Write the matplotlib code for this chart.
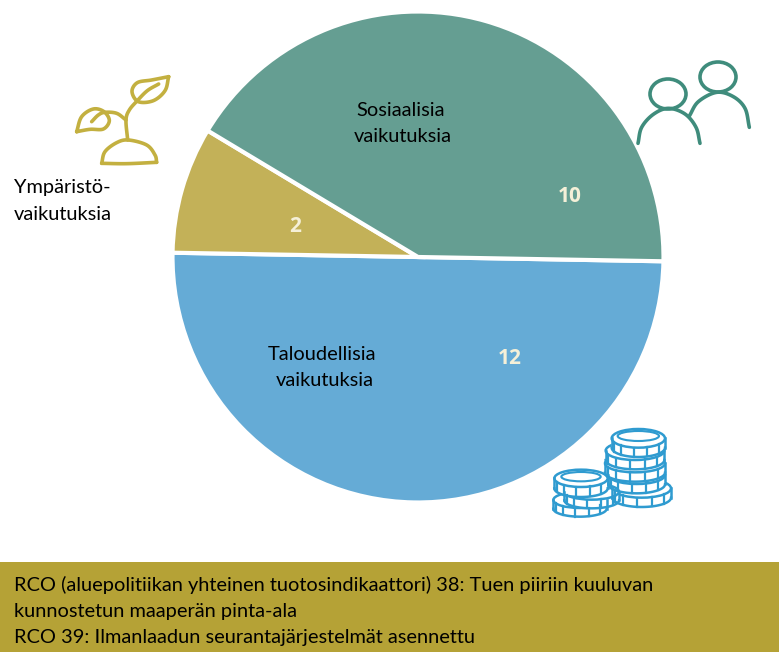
import matplotlib
matplotlib.use("Agg")
import matplotlib.pyplot as plt
import numpy as np
from matplotlib.patches import Ellipse, Rectangle

# Pie data
labels = ["Taloudellisia", "Ympäristö", "Sosiaalisia"]
values = [12, 2, 10]
colors = ["#65abd6", "#c3b158", "#659e92"]

# Text under the pie
footer = [
    "RCO (aluepolitiikan yhteinen tuotosindikaattori) 38: Tuen piiriin kuuluvan",
    "kunnostetun maaperän pinta-ala",
    "RCO 39: Ilmanlaadun seurantajärjestelmät asennettu",
]

W, H = 779, 652
plt.rcParams["font.family"] = ["Lato", "DejaVu Sans"]
FS = 14.45

fig = plt.figure(figsize=(W / 100, H / 100), dpi=100, facecolor="white")

# Overlay axes in pixel coordinates, for band, text and icons
ov = fig.add_axes([0, 0, 1, 1], zorder=2)
ov.set_xlim(0, W)
ov.set_ylim(H, 0)
ov.axis("off")
ov.patch.set_alpha(0)

# Pie axes placed so the circle lands at centre (418,257), radius 244 plus edge
cx, cy, r = 418, 257, 250
ax = fig.add_axes([(cx - r) / W, 1 - (cy + r) / H, 2 * r / W, 2 * r / H], zorder=1)
ax.pie(values, colors=colors, startangle=-1, counterclock=False, radius=245.5 / r,
       wedgeprops={"edgecolor": "white", "linewidth": 3})
ax.set_xlim(-1, 1)
ax.set_ylim(-1, 1)

ov.add_patch(Rectangle((0, 562), W, 90, color="#b5a236", lw=0))


def smooth(pts, n=16):
    # Catmull-Rom through the given points
    p = np.array(pts, float)
    p = np.vstack([2 * p[0] - p[1], p, 2 * p[-1] - p[-2]])
    out = []
    for i in range(1, len(p) - 2):
        for t in np.linspace(0, 1, n):
            out.append(0.5 * (2 * p[i] + (p[i + 1] - p[i - 1]) * t
                              + (2 * p[i - 1] - 5 * p[i] + 4 * p[i + 1] - p[i + 2]) * t ** 2
                              + (3 * p[i] - p[i - 1] - 3 * p[i + 1] + p[i + 2]) * t ** 3))
    return np.array(out)


def stroke(pts, x0, y0, color, lw):
    s = smooth(pts) / 3 + [x0, y0]
    ov.plot(s[:, 0], s[:, 1], color=color, lw=lw, solid_capstyle="round")


# Plant icon, sketched in zoom-crop coordinates
PLANT = "#c3b040"
plant_lines = [
    [(326, 50), (275, 60), (232, 68), (216, 95), (235, 125), (280, 122), (315, 92), (326, 50)],
    [(296, 72), (262, 92), (232, 122), (208, 150), (198, 180), (203, 240)],
    [(50, 215), (65, 170), (100, 147), (132, 155), (148, 182), (130, 207), (90, 208), (50, 215)],
    [(95, 185), (115, 165), (135, 157), (170, 160), (198, 180)],
    [(125, 310), (135, 275), (170, 248), (205, 240), (260, 255), (285, 285), (290, 307)],
    [(125, 310), (200, 311), (290, 307)],
]
for line in plant_lines:
    stroke(line, 60, 60, PLANT, 2.6)

# People icon
PEOPLE = "#3f8c7c"
for (ex, ey) in [(668, 94), (718, 77)]:
    ov.add_patch(Ellipse((ex, ey), 36, 30, fill=False, ec=PEOPLE, lw=2.6))
arc_left = [(24, 280), (35, 232), (70, 193), (115, 175), (165, 192), (198, 232), (210, 280)]
arc_right = [(178, 198), (205, 155), (260, 127), (310, 140), (345, 175), (358, 232)]
for arc in [arc_left, arc_right]:
    stroke(arc, 630, 50, PEOPLE, 2.6)


# Coin icon
COIN = "#2f9bd0"


def coin(x, y, rx, ry, h):
    x0, y0 = 545, 420
    x, y, rx, ry, h = x / 3 + x0, y / 3 + y0, rx / 3, ry / 3, h / 3
    t = np.linspace(0, np.pi, 40)
    bx = x + rx * np.cos(t)
    by = y + h + ry * np.sin(t)
    ov.fill(np.r_[x + rx, bx, x - rx], np.r_[y, by, y], color="white", lw=0)
    ov.plot(bx, by, color=COIN, lw=1.8)
    ov.plot([x - rx, x - rx], [y, y + h], color=COIN, lw=1.8)
    ov.plot([x + rx, x + rx], [y, y + h], color=COIN, lw=1.8)
    for a in np.radians([40, 70, 100, 130, 155]):
        ov.plot([x + rx * np.cos(a)] * 2,
                [y + ry * np.sin(a), y + h + ry * np.sin(a)], color=COIN, lw=1.6)
    ov.add_patch(Ellipse((x, y), 2 * rx, 2 * ry, fc="white", ec=COIN, lw=1.8))


for c in [(290, 205, 88, 28, 28), (275, 165, 85, 27, 28), (270, 130, 90, 27, 28),
          (270, 92, 88, 28, 28), (280, 55, 80, 28, 28)]:
    coin(*c)
ov.add_patch(Ellipse((545 + 280 / 3, 420 + 48 / 3), 124 / 3, 30 / 3, fill=False, ec=COIN, lw=1.5))

for c in [(105, 240, 80, 24, 26), (140, 215, 82, 24, 26), (108, 175, 80, 26, 30)]:
    coin(*c)
ov.add_patch(Ellipse((545 + 108 / 3, 420 + 170 / 3), 118 / 3, 28 / 3, fill=False, ec=COIN, lw=1.5))

# Slice labels
for x, y, s in [(401, 110, "Sosiaalisia"), (403, 136, "vaikutuksia"),
                (322, 354, "Taloudellisia"), (325, 381, "vaikutuksia")]:
    ov.text(x, y, s, ha="center", va="center", fontsize=FS, color="black")
for y, s in [(188, "Ympäristö-"), (214, "vaikutuksia")]:
    ov.text(14, y, s, ha="left", va="center", fontsize=FS, color="black")

for x, y, v in zip([510, 295, 570], [359, 226, 196], values):
    ov.text(x, y, str(v), ha="center", va="center", fontsize=15, fontweight="bold",
            family="Open Sans", color="#f5f0d8")

# Footer band text
for y, s in zip([585, 611, 637], footer):
    ov.text(14, y, s, ha="left", va="center", fontsize=FS, color="black")

fig.savefig("out.png", dpi=100)
